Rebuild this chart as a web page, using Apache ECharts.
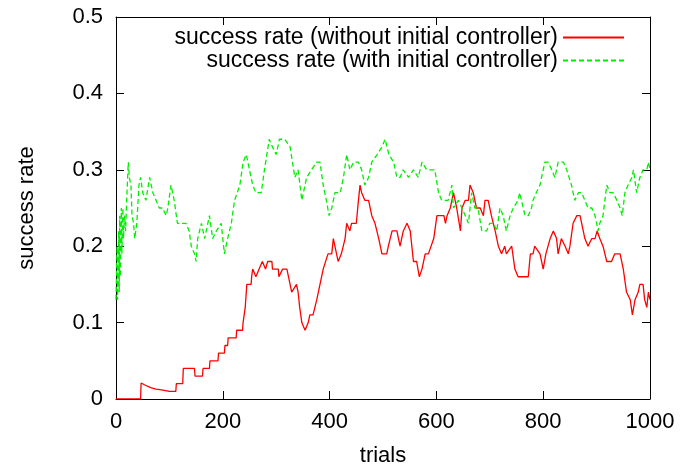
<!DOCTYPE html>
<html>
<head>
<meta charset="utf-8">
<script src="https://cdn.jsdelivr.net/npm/echarts@6/dist/echarts.min.js"></script>
<style>
html,body{margin:0;padding:0;background:#fff;}
#chart{width:694px;height:472px;}
</style>
</head>
<body>
<div id="chart"></div>
<script>
// ---- data ----
var seriesNames = ['success rate (without initial controller)', 'success rate (with initial controller)'];

var redTrials = [0,46,47,55,65,75,85,100,112,113,125,126,147,148,162,163,175,176,191,192,203,204,209,210,218,225,226,237,238,242,245,253,254,256,262,268,274,280,284,292,293,304,305,312,320,326,329,338,341,344,348,354,360,363,369,376,382,388,397,404,407,413,416,422,429,432,438,441,450,454,457,460,466,473,479,485,492,498,507,510,517,526,529,532,538,545,551,557,563,568,573,579,585,595,601,607,614,617,620,626,632,638,645,648,654,660,663,669,675,682,688,691,697,703,710,716,722,728,731,741,747,753,772,776,781,784,794,800,805,813,819,825,828,834,841,847,850,856,863,869,875,878,884,891,897,901,906,912,919,928,934,944,950,956,963,967,972,978,981,987,990,994,997,1000];
var redRates = [0,0,0.021,0.018,0.015,0.013,0.012,0.01,0.01,0.02,0.02,0.04,0.04,0.03,0.03,0.04,0.04,0.05,0.05,0.06,0.06,0.07,0.07,0.08,0.08,0.08,0.09,0.09,0.10,0.12,0.15,0.15,0.16,0.17,0.16,0.17,0.18,0.17,0.18,0.18,0.17,0.17,0.16,0.17,0.17,0.15,0.14,0.15,0.14,0.12,0.10,0.09,0.10,0.11,0.11,0.13,0.15,0.17,0.19,0.19,0.21,0.19,0.18,0.19,0.21,0.23,0.22,0.23,0.23,0.26,0.28,0.27,0.26,0.26,0.24,0.23,0.21,0.19,0.19,0.20,0.22,0.22,0.21,0.20,0.22,0.23,0.22,0.18,0.18,0.16,0.17,0.19,0.19,0.21,0.24,0.24,0.24,0.23,0.24,0.25,0.27,0.25,0.22,0.25,0.26,0.26,0.28,0.27,0.25,0.25,0.24,0.26,0.26,0.24,0.22,0.20,0.19,0.20,0.19,0.20,0.17,0.16,0.16,0.19,0.19,0.20,0.19,0.17,0.19,0.21,0.22,0.21,0.19,0.21,0.20,0.19,0.20,0.23,0.24,0.24,0.22,0.21,0.20,0.21,0.21,0.22,0.21,0.20,0.18,0.18,0.19,0.19,0.17,0.14,0.13,0.11,0.13,0.14,0.15,0.15,0.13,0.12,0.14,0.13];

var greenTrials = [0,2,3,5,6,7,8,10,11,13,14,16,18,20,23,25,28,30,33,35,39,43,46,50,56,63,69,75,81,87,94,97,103,109,115,131,137,141,147,150,153,160,166,175,181,188,197,203,209,216,222,232,238,244,250,256,262,272,278,287,293,300,306,316,326,335,341,348,357,366,376,382,388,394,399,404,410,420,426,432,438,445,454,460,466,473,479,489,498,504,511,520,526,532,538,548,557,566,573,582,591,597,604,610,616,622,629,632,641,648,654,660,666,672,678,685,694,700,707,713,719,725,731,738,744,753,756,766,772,778,781,787,794,800,803,809,816,822,828,838,844,853,859,866,872,878,884,891,897,903,906,912,919,925,931,938,944,948,953,959,966,969,975,981,987,994,997,1000];
var greenRates = [0.13,0.20,0.13,0.22,0.14,0.24,0.16,0.25,0.19,0.25,0.21,0.24,0.22,0.26,0.31,0.29,0.28,0.24,0.23,0.21,0.23,0.28,0.29,0.27,0.26,0.29,0.27,0.26,0.25,0.25,0.24,0.25,0.28,0.26,0.23,0.23,0.22,0.20,0.19,0.18,0.21,0.23,0.21,0.24,0.21,0.22,0.23,0.19,0.21,0.23,0.26,0.28,0.31,0.32,0.30,0.28,0.27,0.27,0.30,0.34,0.33,0.32,0.34,0.34,0.33,0.29,0.30,0.26,0.29,0.30,0.31,0.31,0.28,0.26,0.24,0.25,0.27,0.27,0.29,0.32,0.30,0.31,0.31,0.30,0.28,0.29,0.31,0.32,0.33,0.34,0.32,0.31,0.29,0.29,0.30,0.29,0.30,0.29,0.31,0.30,0.30,0.30,0.27,0.26,0.26,0.26,0.28,0.25,0.26,0.25,0.24,0.23,0.27,0.25,0.25,0.22,0.22,0.23,0.23,0.22,0.25,0.24,0.22,0.24,0.25,0.26,0.27,0.24,0.24,0.25,0.26,0.27,0.28,0.30,0.31,0.31,0.30,0.29,0.31,0.31,0.30,0.28,0.26,0.27,0.27,0.26,0.25,0.25,0.24,0.22,0.23,0.24,0.28,0.27,0.27,0.26,0.25,0.24,0.27,0.28,0.29,0.30,0.27,0.29,0.30,0.30,0.31,0.30];

var xTicks = {min: 0, max: 1000, interval: 200};
var yTicks = {min: 0, max: 0.5, interval: 0.1};

function pairs(xs, ys) { return xs.map(function (x, i) { return [x, ys[i]]; }); }

var FONT = "'Liberation Sans', Arial, Helvetica, sans-serif";
var chart = echarts.init(document.getElementById('chart'), null, {renderer: 'canvas'});

function axisCommon(extra) {
  var base = {
    type: 'value',
    axisLine: {show: true, onZero: false, lineStyle: {color: '#000', width: 1}},
    axisTick: {show: true, inside: true, length: 8, lineStyle: {color: '#000', width: 1}},
    splitLine: {show: false},
    axisLabel: {color: '#000', fontSize: 22, fontFamily: FONT},
    nameTextStyle: {color: '#000', fontSize: 22, fontFamily: FONT}
  };
  for (var k in extra) base[k] = extra[k];
  return base;
}

function legendFor(name, top) {
  return {
    data: [name], selectedMode: false, right: 64, top: top, align: 'right',
    itemWidth: 61, itemHeight: 20, itemGap: 0,
    itemStyle: {opacity: 0},
    textStyle: {color: '#000', fontSize: 23, fontFamily: FONT}
  };
}

var option = {
  animation: false,
  backgroundColor: '#fff',
  grid: {left: 116, right: 44, top: 17, bottom: 69, containLabel: false},
  legend: [legendFor(seriesNames[0], 21), legendFor(seriesNames[1], 44)],
  xAxis: [
    axisCommon({position: 'bottom', min: xTicks.min, max: xTicks.max, interval: xTicks.interval,
      name: 'trials', nameLocation: 'middle', nameGap: 46,
      axisLabel: {color: '#000', fontSize: 22, fontFamily: FONT, margin: 12,
        formatter: function (v) { return String(v); }}}),
    axisCommon({position: 'top', min: xTicks.min, max: xTicks.max, interval: xTicks.interval,
      axisLabel: {show: false}})
  ],
  yAxis: [
    axisCommon({position: 'left', min: yTicks.min, max: yTicks.max, interval: yTicks.interval,
      name: 'success rate', nameLocation: 'middle', nameGap: 78,
      axisLabel: {color: '#000', fontSize: 22, fontFamily: FONT, margin: 13,
        formatter: function (v) { return v === 0 ? '0' : v.toFixed(1); }}}),
    axisCommon({position: 'right', min: yTicks.min, max: yTicks.max, interval: yTicks.interval,
      axisLabel: {show: false}})
  ],
  series: [
    {
      name: seriesNames[0], type: 'line', xAxisIndex: 0, yAxisIndex: 0,
      data: pairs(redTrials, redRates), symbol: 'none', showSymbol: false,
      itemStyle: {color: '#ff0000'},
      lineStyle: {color: '#ff0000', width: 1.3}
    },
    {
      name: seriesNames[1], type: 'line', xAxisIndex: 0, yAxisIndex: 0,
      data: pairs(greenTrials, greenRates), symbol: 'none', showSymbol: false,
      itemStyle: {color: '#00ee00'},
      lineStyle: {color: '#00ee00', width: 1.3, type: [5, 3]}
    }
  ]
};
chart.setOption(option);
</script>
</body>
</html>
